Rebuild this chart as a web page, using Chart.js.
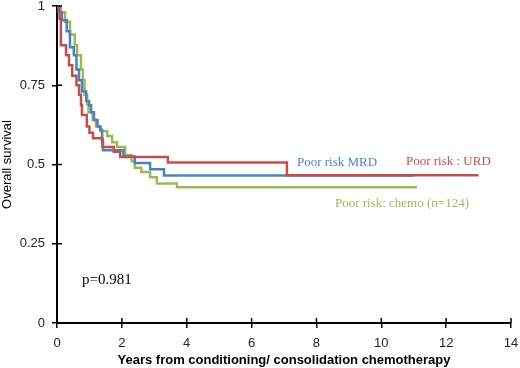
<!DOCTYPE html>
<html>
<head>
<meta charset="utf-8">
<script src="https://cdn.jsdelivr.net/npm/chart.js"></script>
<style>
  html, body { margin: 0; padding: 0; background: #fff; }
  #wrap { width: 520px; height: 368px; }
</style>
</head>
<body>
<div id="wrap"><canvas id="km"></canvas></div>
<script>
// Kaplan-Meier steps (years, survival)
const urdTime = [0, 0.08, 0.12, 0.28, 0.37, 0.47, 0.6, 0.68, 0.74, 0.77, 0.92, 1.0, 1.11, 1.4, 1.75, 1.95, 3.42, 7.09, 13.0];
const urdSurv = [1, 0.96, 0.876, 0.845, 0.813, 0.78, 0.75, 0.72, 0.688, 0.656, 0.62, 0.6, 0.583, 0.555, 0.54, 0.524, 0.506, 0.466, 0.466];

const mrdTime = [0, 0.05, 0.15, 0.3, 0.4, 0.52, 0.6, 0.68, 0.77, 0.9, 0.99, 1.05, 1.14, 1.25, 1.33, 1.39, 1.42, 2.05, 2.4, 2.87, 3.3, 11.0];
const mrdSurv = [1, 0.98, 0.955, 0.92, 0.87, 0.845, 0.8, 0.766, 0.73, 0.7, 0.687, 0.665, 0.64, 0.62, 0.61, 0.576, 0.545, 0.525, 0.505, 0.485, 0.465, 0.465];

const chemoTime = [0, 0.12, 0.25, 0.4, 0.55, 0.62, 0.74, 0.8, 0.85, 0.93, 0.97, 1.1, 1.2, 1.35, 1.55, 1.7, 1.85, 2.1, 2.3, 2.4, 2.6, 2.87, 3.08, 3.7, 11.1];
const chemoSurv = [1, 0.98, 0.95, 0.91, 0.876, 0.845, 0.8, 0.766, 0.72, 0.69, 0.665, 0.64, 0.62, 0.605, 0.59, 0.57, 0.555, 0.53, 0.51, 0.49, 0.476, 0.46, 0.44, 0.428, 0.428];

const seriesNames = ['Poor risk : URD', 'Poor risk MRD', 'Poor risk: chemo (n=124)'];
const pValueText = 'p=0.981';

const RED = '#C0504D', BLUE = '#4F81BD', GREEN = '#9BBB59';

function pts(t, s) { return t.map((x, i) => ({ x: x, y: s[i] })); }

// ticks crossing the axis + curve labels
const extras = {
  id: 'extras',
  afterDraw(chart) {
    const c = chart.ctx, xs = chart.scales.x, ys = chart.scales.y;
    const x0 = xs.getPixelForValue(0), y0 = ys.getPixelForValue(0);
    c.save();
    c.strokeStyle = '#000';
    c.lineWidth = 1.5;
    c.beginPath();
    xs.ticks.forEach(t => {
      const px = xs.getPixelForValue(t.value);
      c.moveTo(px, y0); c.lineTo(px, y0 - 5);
    });
    ys.ticks.forEach(t => {
      const py = ys.getPixelForValue(t.value);
      c.moveTo(x0, py); c.lineTo(x0 + 5, py);
    });
    c.stroke();

    c.textBaseline = 'middle';
    c.textAlign = 'left';
    c.font = '13px "Liberation Serif", serif';
    const labels = [
      { text: seriesNames[1], x: 7.4, y: 0.505, color: BLUE },
      { text: seriesNames[0], x: 10.76, y: 0.508, color: RED },
      { text: seriesNames[2], x: 8.57, y: 0.376, color: GREEN }
    ];
    labels.forEach(l => {
      c.fillStyle = l.color;
      c.fillText(l.text, xs.getPixelForValue(l.x), ys.getPixelForValue(l.y));
    });
    c.fillStyle = '#000';
    c.font = '15px "Liberation Serif", serif';
    c.fillText(pValueText, xs.getPixelForValue(0.77), ys.getPixelForValue(0.135));
    c.restore();
  }
};

const line = (name, t, s, color) => ({
  label: name,
  data: pts(t, s),
  borderColor: color,
  backgroundColor: color,
  borderWidth: 2.5,
  pointRadius: 0,
  stepped: 'before',
  fill: false
});

new Chart(document.getElementById('km'), {
  type: 'line',
  data: {
    datasets: [
      line(seriesNames[0], urdTime, urdSurv, RED),
      line(seriesNames[1], mrdTime, mrdSurv, BLUE),
      line(seriesNames[2], chemoTime, chemoSurv, GREEN)
    ]
  },
  options: {
    responsive: true,
    maintainAspectRatio: false,
    animation: false,
    layout: { padding: { top: 6, right: 9, left: 0, bottom: 0 } },
    plugins: { legend: { display: false }, tooltip: { enabled: false } },
    scales: {
      x: {
        type: 'linear',
        min: 0, max: 14,
        afterFit: s => { s.height = 45; s.paddingLeft = 0; s.paddingRight = 0; },
        border: { color: '#000', width: 2 },
        grid: { drawOnChartArea: false, tickLength: 5, color: '#000', lineWidth: 1.5 },
        ticks: { stepSize: 2, color: '#222', padding: 8, font: { family: 'Arial, "Liberation Sans", sans-serif', size: 13 } },
        title: {
          display: true,
          text: 'Years from conditioning/ consolidation chemotherapy',
          color: '#000',
          padding: { top: 3, bottom: 0 },
          font: { family: 'Arial, "Liberation Sans", sans-serif', size: 13, weight: 'bold' }
        }
      },
      y: {
        min: 0, max: 1,
        afterFit: s => { s.width = 57; s.paddingTop = 0; s.paddingBottom = 0; },
        border: { color: '#000', width: 2 },
        grid: { drawOnChartArea: false, tickLength: 5, color: '#000', lineWidth: 1.5 },
        ticks: {
          stepSize: 0.25, color: '#222', padding: 7,
          font: { family: 'Arial, "Liberation Sans", sans-serif', size: 13 },
          callback: v => String(Math.round(v * 100) / 100)
        },
        title: {
          display: true,
          text: 'Overall survival',
          color: '#000',
          padding: { top: 0, bottom: 2 },
          font: { family: 'Arial, "Liberation Sans", sans-serif', size: 13 }
        }
      }
    }
  },
  plugins: [extras]
});
</script>
</body>
</html>
